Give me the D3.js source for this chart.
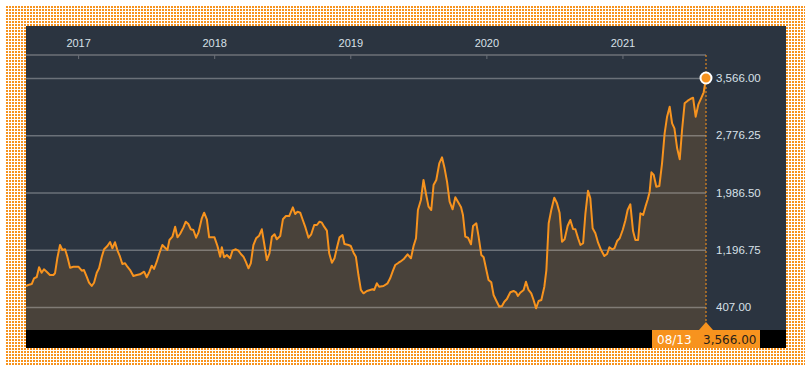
<!DOCTYPE html>
<html>
<head>
<meta charset="utf-8">
<script src="https://cdn.jsdelivr.net/npm/d3@7"></script>
<style>
  body { margin: 0; background: #fff; }
  svg { display: block; font-family: "DejaVu Sans", Verdana, sans-serif; }
</style>
</head>
<body>
<div class="visHolder"></div>
<script>
// decimal year of each weekly point
const years = [
  2016.617, 2016.634, 2016.659, 2016.676, 2016.696, 2016.713, 2016.732, 2016.749, 2016.769, 2016.793,
  2016.818, 2016.830, 2016.847, 2016.867, 2016.884, 2016.904, 2016.921, 2016.941, 2016.965, 2017.002,
  2017.027, 2017.043, 2017.063, 2017.080, 2017.100, 2017.117, 2017.137, 2017.154, 2017.174, 2017.191,
  2017.215, 2017.235, 2017.252, 2017.271, 2017.288, 2017.308, 2017.325, 2017.345, 2017.362, 2017.382,
  2017.406, 2017.431, 2017.455, 2017.485, 2017.504, 2017.524, 2017.541, 2017.558, 2017.578, 2017.597,
  2017.619, 2017.639, 2017.656, 2017.671, 2017.693, 2017.713, 2017.730, 2017.749, 2017.774, 2017.791,
  2017.810, 2017.828, 2017.847, 2017.867, 2017.884, 2017.909, 2017.926, 2017.946, 2017.963, 2017.983,
  2018.002, 2018.024, 2018.044, 2018.056, 2018.073, 2018.093, 2018.117, 2018.134, 2018.159, 2018.178,
  2018.196, 2018.215, 2018.232, 2018.252, 2018.269, 2018.288, 2018.308, 2018.330, 2018.350, 2018.367,
  2018.387, 2018.406, 2018.424, 2018.443, 2018.460, 2018.485, 2018.505, 2018.527, 2018.551, 2018.578,
  2018.595, 2018.612, 2018.632, 2018.651, 2018.671, 2018.693, 2018.713, 2018.735, 2018.755, 2018.774,
  2018.791, 2018.808, 2018.828, 2018.845, 2018.865, 2018.884, 2018.901, 2018.921, 2018.943, 2018.957,
  2018.987, 2019.004, 2019.024, 2019.041, 2019.060, 2019.078, 2019.097, 2019.122, 2019.146, 2019.163,
  2019.176, 2019.195, 2019.212, 2019.244, 2019.274, 2019.293, 2019.313, 2019.330, 2019.355, 2019.367,
  2019.391, 2019.421, 2019.446, 2019.465, 2019.483, 2019.497, 2019.519, 2019.538, 2019.558, 2019.575,
  2019.595, 2019.612, 2019.632, 2019.654, 2019.674, 2019.693, 2019.711, 2019.730, 2019.752, 2019.772,
  2019.791, 2019.814, 2019.828, 2019.845, 2019.865, 2019.887, 2019.902, 2019.926, 2019.943, 2019.963,
  2019.980, 2020.000, 2020.016, 2020.036, 2020.053, 2020.073, 2020.095, 2020.115, 2020.132, 2020.151,
  2020.176, 2020.200, 2020.218, 2020.232, 2020.249, 2020.274, 2020.291, 2020.310, 2020.330, 2020.347,
  2020.365, 2020.384, 2020.404, 2020.426, 2020.441, 2020.458, 2020.477, 2020.499, 2020.519, 2020.538,
  2020.556, 2020.575, 2020.597, 2020.617, 2020.637, 2020.654, 2020.674, 2020.691, 2020.711, 2020.728,
  2020.747, 2020.764, 2020.781, 2020.801, 2020.821, 2020.843, 2020.867, 2020.887, 2020.904, 2020.924,
  2020.941, 2020.961, 2020.980, 2021.002, 2021.021, 2021.038, 2021.058, 2021.078, 2021.095, 2021.115,
  2021.132, 2021.152, 2021.169, 2021.186, 2021.200, 2021.213, 2021.230, 2021.249, 2021.271, 2021.291,
  2021.310, 2021.328, 2021.347, 2021.365, 2021.382, 2021.402, 2021.421, 2021.438, 2021.457, 2021.480,
  2021.499, 2021.519, 2021.538, 2021.558, 2021.578, 2021.597, 2021.614
];

const prices = [
  697, 710, 724, 803, 821, 955, 880, 927, 894, 848,
  848, 872, 1079, 1262, 1193, 1203, 1101, 949, 963, 963,
  908, 917, 825, 742, 697, 742, 880, 941, 1101, 1203,
  1248, 1304, 1217, 1300, 1193, 1101, 1000, 1010, 963, 917,
  835, 848, 858, 894, 817, 894, 977, 931, 1032, 1148,
  1262, 1225, 1193, 1331, 1377, 1515, 1368, 1414, 1506, 1584,
  1552, 1479, 1469, 1363, 1432, 1631, 1708, 1617, 1368, 1368,
  1368, 1248, 1101, 1231, 1093, 1124, 1079, 1184, 1203, 1184,
  1138, 1101, 1032, 941, 1010, 1262, 1355, 1391, 1479, 1286,
  1055, 1148, 1377, 1410, 1341, 1386, 1617, 1662, 1662, 1782,
  1690, 1722, 1708, 1607, 1501, 1363, 1410, 1538, 1538, 1584,
  1570, 1515, 1460, 1148, 1018, 1079, 1217, 1368, 1400, 1276,
  1262, 1248, 1156, 1101, 848, 642, 596, 628, 642, 651,
  642, 734, 687, 697, 734, 803, 904, 986, 1018, 1032,
  1065, 1134, 1079, 1248, 1355, 1745, 1883, 2159, 1952, 1791,
  1745, 2090, 2159, 2389, 2472, 2320, 2136, 1860, 1755, 1920,
  1860, 1782, 1676, 1377, 1363, 1272, 1524, 1562, 1377, 1124,
  1093, 917, 779, 748, 572, 494, 411, 421, 480, 517,
  610, 628, 610, 559, 604, 642, 756, 642, 596, 504,
  389, 490, 504, 687, 917, 1562, 1745, 1915, 1838, 1708,
  1308, 1341, 1524, 1607, 1483, 1479, 1355, 1262, 1286, 1700,
  2011, 1907, 1493, 1424, 1294, 1193, 1110, 1138, 1231, 1203,
  1217, 1317, 1355, 1469, 1597, 1745, 1824, 1455, 1331, 1331,
  1700, 1676, 1791, 1893, 1998, 2265, 2228, 2067, 2076, 2389,
  2803, 3032, 3170, 2941, 2872, 2596, 2444, 2849, 3217, 3253,
  3276, 3294, 3032, 3203, 3286, 3369, 3566
];

const yearTicks = [2017, 2018, 2019, 2020, 2021];
const priceTicks = [407.00, 1196.75, 1986.50, 2776.25, 3566.00];
const lastDate = "08/13";
const lastPrice = 3566.00;

const orange = "#f7931e";
const panel = { x: 26, y: 26, w: 760, h: 322 };
const plot = { left: 26, right: 706, top: 56, bottom: 330 };

const svg = d3.select(".visHolder")
  .append("svg")
  .attr("width", 811)
  .attr("height", 371);

// dotted orange frame
const pat = svg.append("defs").append("pattern")
  .attr("id", "dots")
  .attr("width", 3).attr("height", 3)
  .attr("patternUnits", "userSpaceOnUse");
pat.append("rect").attr("width", 3).attr("height", 3).attr("fill", "#fff");
pat.append("rect").attr("width", 2).attr("height", 2).attr("fill", orange);

svg.append("rect")
  .attr("x", 6).attr("y", 6)
  .attr("width", 799).attr("height", 360)
  .attr("fill", "url(#dots)");

svg.append("rect")
  .attr("x", panel.x).attr("y", panel.y)
  .attr("width", panel.w).attr("height", panel.h)
  .attr("fill", "#2b3440");

const xScale = d3.scaleLinear()
  .domain([years[0], years[years.length - 1]])
  .range([plot.left, plot.right]);

const yScale = d3.scaleLinear()
  .domain([407, 3566])
  .range([307, 78]);

const data = years.map((y, i) => ({ year: y, price: prices[i] }));

// area under the line
svg.append("path")
  .datum(data)
  .attr("d", d3.area()
    .x(d => xScale(d.year))
    .y0(plot.bottom)
    .y1(d => yScale(d.price)))
  .attr("fill", orange)
  .attr("fill-opacity", 0.15);

// horizontal grid + right labels
const yAxis = d3.axisRight(yScale)
  .tickValues(priceTicks)
  .tickSize(-(plot.right - plot.left))
  .tickPadding(10)
  .tickFormat(d3.format(",.2f"));

svg.append("g")
  .attr("id", "y-axis")
  .attr("transform", `translate(${plot.right},0)`)
  .call(yAxis)
  .call(g => g.select(".domain").remove())
  .call(g => g.selectAll("line")
    .attr("stroke", "#fff")
    .attr("stroke-opacity", 0.3)
    .attr("stroke-width", 1.6))
  .call(g => g.selectAll("text")
    .attr("fill", "#d8e0e8")
    .attr("font-size", 11.5));

// top year axis
const xAxis = d3.axisTop(xScale)
  .tickValues(yearTicks)
  .tickSize(-4)
  .tickPadding(-4)
  .tickFormat(d3.format("d"));

svg.append("g")
  .attr("id", "x-axis")
  .attr("transform", `translate(0,${plot.top - 1})`)
  .call(xAxis)
  .call(g => g.select(".domain")
    .attr("d", `M${plot.left},0H${plot.right}`)
    .attr("stroke", "#5c6169")
    .attr("stroke-width", 2))
  .call(g => g.selectAll("line").attr("stroke", "#6a6f77"))
  .call(g => g.selectAll("text")
    .attr("y", -8)
    .attr("fill", "#d8e0e8")
    .attr("font-size", 11));

// price line
svg.append("path")
  .datum(data)
  .attr("d", d3.line()
    .x(d => xScale(d.year))
    .y(d => yScale(d.price)))
  .attr("fill", "none")
  .attr("stroke", orange)
  .attr("stroke-width", 2)
  .attr("stroke-linejoin", "round");

// dotted marker line for the last point
const lastX = xScale(years[years.length - 1]);
svg.append("line")
  .attr("x1", lastX).attr("x2", lastX)
  .attr("y1", plot.top - 1).attr("y2", plot.bottom - 8)
  .attr("stroke", orange)
  .attr("stroke-opacity", 0.7)
  .attr("stroke-width", 1.5)
  .attr("stroke-dasharray", "2,2");

svg.append("circle")
  .attr("cx", lastX)
  .attr("cy", yScale(lastPrice))
  .attr("r", 5.5)
  .attr("fill", orange)
  .attr("stroke", "#fff")
  .attr("stroke-width", 2);

// bottom bar with callout
svg.append("rect")
  .attr("x", panel.x).attr("y", plot.bottom)
  .attr("width", panel.w).attr("height", 18)
  .attr("fill", "#000");

svg.append("rect")
  .attr("x", 652).attr("y", plot.bottom)
  .attr("width", 108).attr("height", 18)
  .attr("fill", orange);

svg.append("path")
  .attr("d", `M${lastX - 7},${plot.bottom}L${lastX},${plot.bottom - 8}L${lastX + 7},${plot.bottom}Z`)
  .attr("fill", orange);

svg.append("text")
  .attr("x", 657).attr("y", plot.bottom + 13.5)
  .attr("fill", "#fff")
  .attr("font-size", 12)
  .text(lastDate);

svg.append("text")
  .attr("x", 703).attr("y", plot.bottom + 13.5)
  .attr("fill", "#2a2118")
  .attr("font-size", 12)
  .text(d3.format(",.2f")(lastPrice));
</script>
</body>
</html>
